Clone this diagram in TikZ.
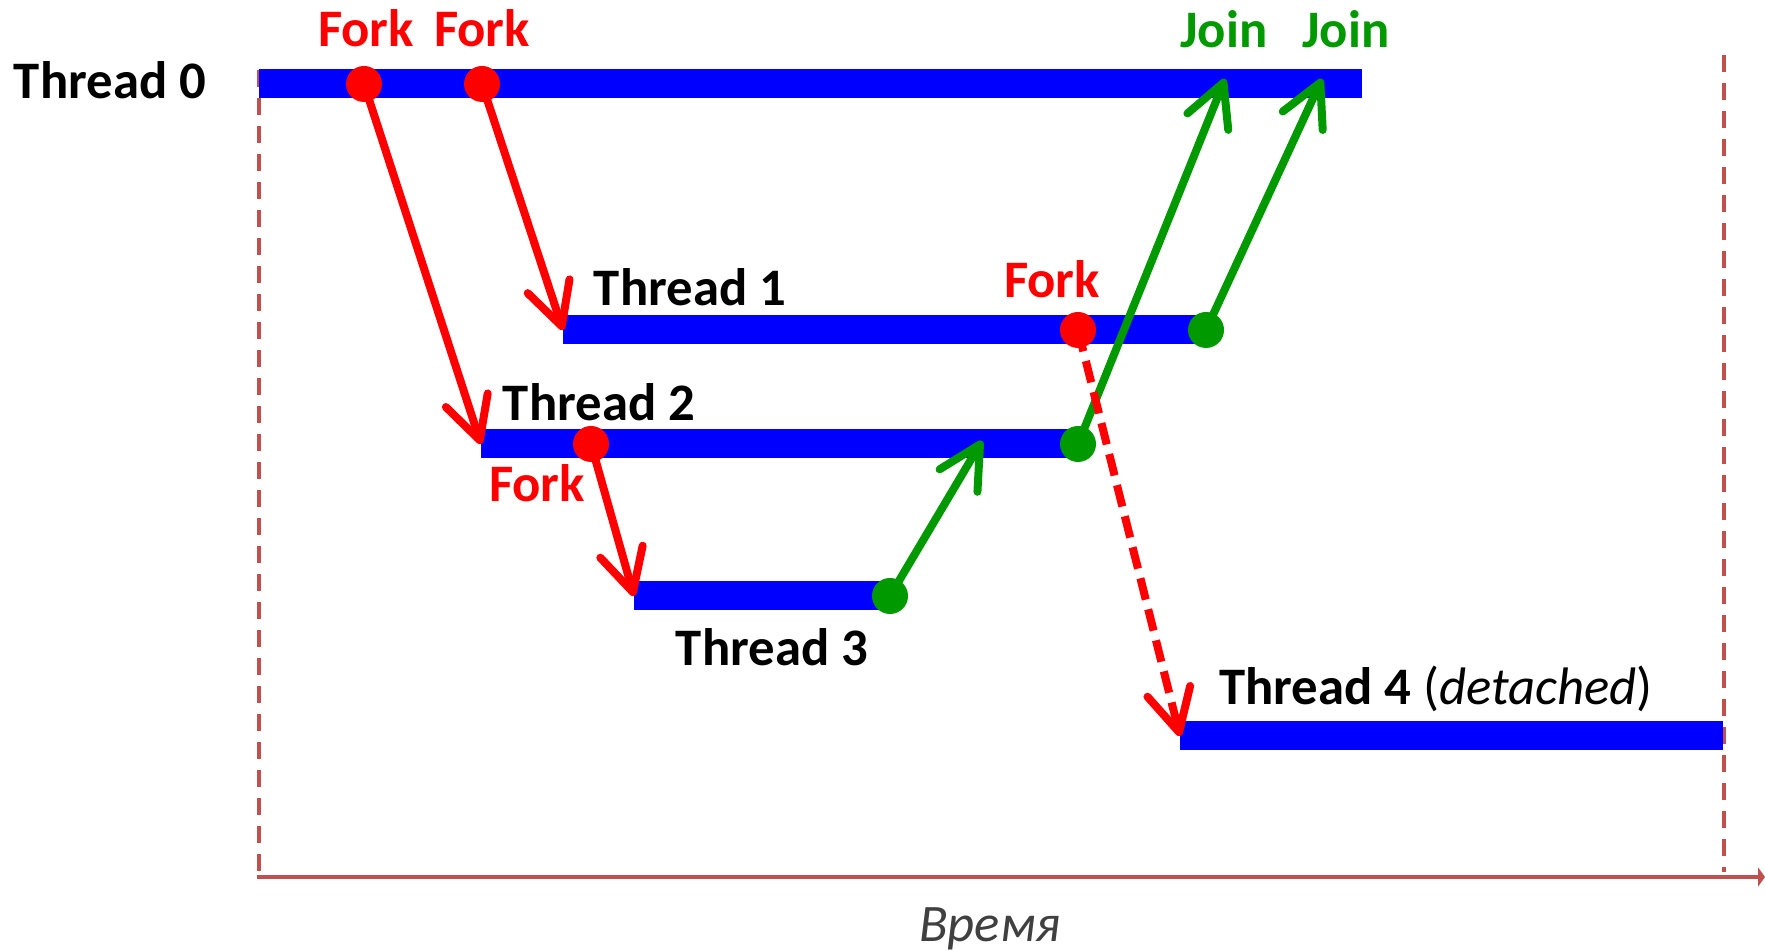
\documentclass[tikz,border=0pt]{standalone}
\usepackage{fontspec}
\setmainfont{Carlito}
\usepackage{xcolor}
\usepackage{tikz}
\usetikzlibrary{arrows.meta,positioning}

\definecolor{barblue}{RGB}{0,0,255}
\definecolor{forkred}{RGB}{255,0,0}
\definecolor{joingreen}{RGB}{0,153,0}
\definecolor{guidered}{RGB}{192,80,77}
\definecolor{timegray}{RGB}{64,64,64}

\tikzset{
    threadbar/.style={draw=barblue, line width=0.29cm},
    forkdot/.style={circle, fill=forkred, minimum size=0.36cm, inner sep=0pt},
    joindot/.style={forkdot, fill=joingreen},
    forkarrow/.style={draw=forkred, line width=0.08cm, -{Straight Barb[length=0.42cm,width=0.44cm,round]}},
    joinarrow/.style={forkarrow, draw=joingreen},
    lbl/.style={font=\fontsize{15}{18}\selectfont\bfseries, inner sep=0pt, anchor=base},
    guide/.style={draw=guidered, line width=0.037cm, dash pattern=on 0.17cm off 0.11cm},
}

\begin{document}
\begin{tikzpicture}
    \useasboundingbox (0,0) rectangle (17.65,9.51);

    % Guides and time axis
    \coordinate (g0t) at (2.59,8.81);
    \coordinate (g0b) at (2.59,0.75);
    \coordinate (g1t) at (17.24,8.96);
    \coordinate (g1b) at (17.24,0.79);
    \draw[guide] (g0t) -- (g0b);
    \draw[guide] (g1t) -- (g1b);
    \coordinate (ax0) at (2.57,0.74);
    \coordinate (ax1) at (17.65,0.74);
    \draw[draw=guidered, line width=0.045cm, -{Triangle[length=0.07cm,width=0.19cm]}] (ax0) -- (ax1);
    \node[lbl, font=\fontsize{15}{18}\selectfont\itshape, text=timegray] (time) at (9.90,0.09) {Время};

    % Threads
    \foreach \t/\xs/\xe/\y in {0/2.59/13.62/8.67, 1/5.63/12.07/6.21, 2/4.81/10.78/5.07, 3/6.34/8.90/3.55, 4/11.80/17.23/2.15} {
        \coordinate (t\t s) at (\xs,\y);
        \coordinate (t\t e) at (\xe,\y);
        \draw[threadbar] (t\t s) -- (t\t e);
    }

    % Thread names
    \node[lbl] (n0) at (1.10,8.52) {Thread 0};
    \node[lbl] (n1) at (6.90,6.45) {Thread 1};
    \node[lbl] (n2) at (5.99,5.30) {Thread 2};
    \node[lbl] (n3) at (7.72,2.85) {Thread 3};
    \node[lbl] (n4) at (14.36,2.46) {Thread 4 {\mdseries(\textit{detached})}};

    % Fork and join points
    \coordinate (f0a) at (3.64,8.67);
    \coordinate (f0b) at (4.82,8.67);
    \coordinate (f1) at (10.78,6.21);
    \coordinate (f2) at (5.91,5.07);
    \coordinate (j1) at (12.06,6.21);
    \coordinate (j2) at (10.78,5.07);
    \coordinate (j3) at (8.90,3.55);
    \coordinate (j0a) at (12.25,8.72);
    \coordinate (j0b) at (13.22,8.72);
    \coordinate (j2in) at (9.82,5.10);

    % Forks
    \draw[forkarrow] (f0a) -- (t2s);
    \draw[forkarrow] (f0b) -- (t1s);
    \draw[forkarrow] (f2) -- (t3s);

    % Joins
    \draw[joinarrow] (j3) -- (j2in);
    \draw[joinarrow] (j2) -- (j0a);
    \draw[joinarrow] (j1) -- (j0b);

    % Detach
    \draw[forkarrow, dash pattern=on 0.22cm off 0.10cm] (f1) -- (t4s);

    \foreach \p in {f0a,f0b,f1,f2} \node[forkdot] at (\p) {};
    \foreach \p in {j1,j2,j3} \node[joindot] at (\p) {};

    % Events
    \node[lbl, text=forkred] (fl0a) at (3.66,9.04) {Fork};
    \node[lbl, text=forkred] (fl0b) at (4.82,9.04) {Fork};
    \node[lbl, text=forkred] (fl1) at (10.52,6.53) {Fork};
    \node[lbl, text=forkred] (fl2) at (5.37,4.49) {Fork};
    \node[lbl, text=joingreen] (jl0a) at (12.24,9.03) {Join};
    \node[lbl, text=joingreen] (jl0b) at (13.46,9.03) {Join};
\end{tikzpicture}
\end{document}
